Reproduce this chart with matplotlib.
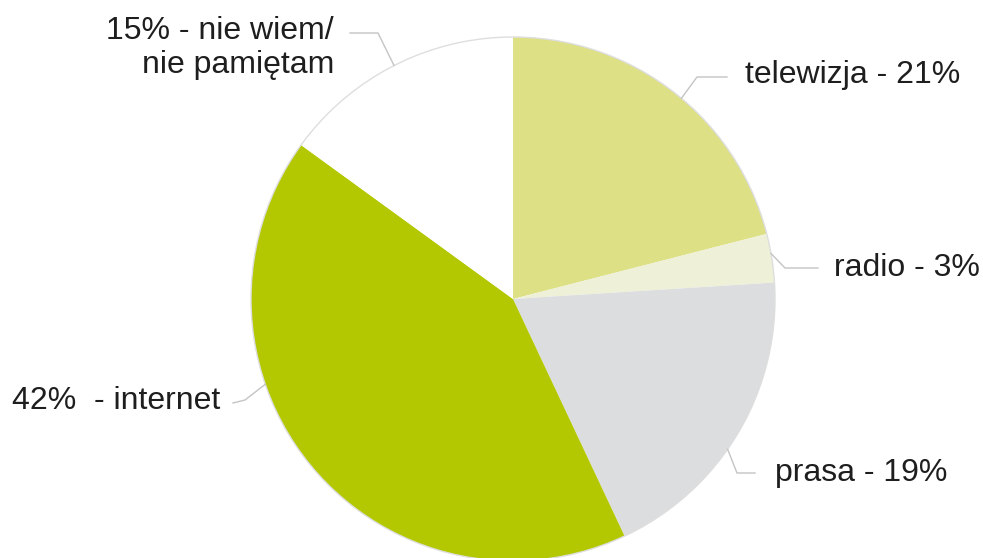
import matplotlib.pyplot as plt
import numpy as np
from matplotlib.patches import Circle

# data
categories = ["telewizja", "radio", "prasa", "internet", "nie wiem/\nnie pamiętam"]
shares = [21, 3, 19, 42, 15]
labels = ["telewizja - 21%", "radio - 3%", "prasa - 19%", "42%  - internet",
          "15% - nie wiem/\nnie pamiętam"]
colors = ["#dde084", "#eef1d8", "#dcdddf", "#b3c800", "#ffffff"]

# layout (pixels, y measured from the top of the image)
W, H = 983, 558
CENTER = (513, 299)
RADIUS = 262
# angle on the rim where each leader line starts (degrees, ccw from 3 o'clock)
anchor_deg = [50, 10, -35, 199, 117]
# elbow and end of each leader, then the text anchor
elbows = [(697, 77), (785, 268), (737, 473), (245, 400), (378, 33)]
ends = [(727, 77), (818, 268), (755, 473), (233, 403), (350, 33)]
text_pos = [(745, 75), (834, 268), (775, 473), (220, 401), (334, 48)]
text_ha = ["left", "left", "left", "right", "right"]

plt.rcParams["font.family"] = ["Liberation Sans", "DejaVu Sans"]


def to_data(p):
    return p[0], H - p[1]


def main() -> None:
    fig = plt.figure(figsize=(W / 100, H / 100), dpi=100)
    ax = fig.add_axes([0, 0, 1, 1])

    cx, cy = to_data(CENTER)
    ax.pie(shares, colors=colors, startangle=90, counterclock=False,
           center=(cx, cy), radius=RADIUS,
           wedgeprops={"linewidth": 0})
    ax.add_patch(Circle((cx, cy), RADIUS, fill=False, edgecolor="#dedede", lw=1.0))

    for i, lab in enumerate(labels):
        a = np.deg2rad(anchor_deg[i])
        start = (cx + RADIUS * np.cos(a), cy + RADIUS * np.sin(a))
        ex, ey = to_data(elbows[i])
        nx, ny = to_data(ends[i])
        ax.plot([start[0], ex, nx], [start[1], ey, ny], color="#c4c4c4", lw=1.0)
        tx, ty = to_data(text_pos[i])
        ax.text(tx, ty, lab, ha=text_ha[i], va="center", fontsize=23,
                color="#1e1e1e", linespacing=1.15, multialignment="right")

    ax.set_xlim(0, W)
    ax.set_ylim(0, H)
    ax.set_aspect("auto")
    ax.axis("off")
    fig.savefig("out.png", dpi=100, facecolor="white")


if __name__ == "__main__":
    main()
